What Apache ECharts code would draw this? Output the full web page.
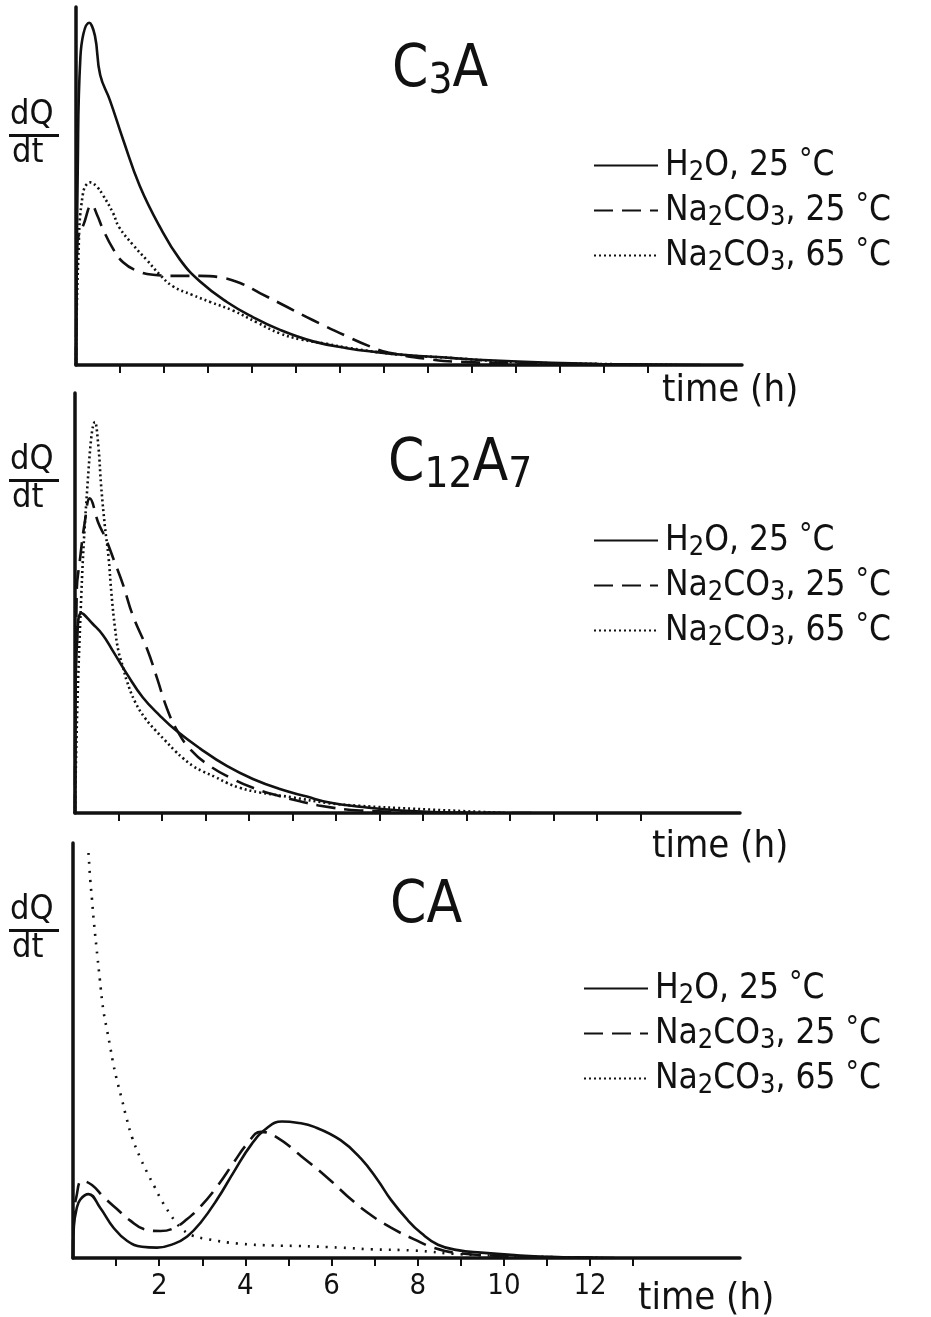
<!DOCTYPE html>
<html>
<head>
<meta charset="utf-8">
<script src="https://cdn.jsdelivr.net/npm/echarts@6/dist/echarts.min.js"></script>
<style>
html,body{margin:0;padding:0;background:#fff;}
#chart{width:931px;height:1317px;}
</style>
</head>
<body>
<div id="chart"></div>
<script>
// ---- data: [time (h), dQ/dt (relative units, 0-100 = axis height)] ----
var seriesNames = ['H2O, 25 °C', 'Na2CO3, 25 °C', 'Na2CO3, 65 °C'];
var panelTitles = ['C3A', 'C12A7', 'CA'];
var tickValues = [1,2,3,4,5,6,7,8,9,10,11,12,13];
var tickLabels = [2,4,6,8,10,12];

var c3aH2O = [[0,0],[0.04,55],[0.1,86],[0.3,95.6],[0.43,92],[0.55,81],[0.77,74],[1.07,63],[1.45,50],[1.91,38.5],[2.36,29.5],[2.82,23.3],[3.43,17.6],[4.02,13.4],[4.64,9.8],[5.39,6.6],[6.16,4.7],[6.84,3.6],[7.5,2.8],[8.5,2.0],[9.25,1.4],[10.8,0.6],[11.9,0.3],[14.2,0]];
var c3aNa25 = [[0,0],[0.03,34],[0.18,39.5],[0.36,44.7],[0.48,41.9],[0.61,38],[0.84,32.5],[1.07,28.7],[1.39,26.3],[1.75,25.2],[2.3,24.9],[2.82,24.9],[3.27,24.5],[3.73,22.9],[4.18,20.1],[4.8,16.2],[5.39,12.5],[6.16,8.0],[6.68,5.2],[7.1,3.5],[8.11,1.5],[8.89,0.8],[10.8,0.3],[13.0,0]];
var c3aNa65 = [[0,0],[0.05,29],[0.16,48],[0.33,51],[0.48,49.7],[0.61,47.5],[0.84,42.5],[0.98,38.5],[1.3,33.5],[1.61,29.3],[1.91,25.2],[2.2,22],[2.64,19.6],[3.05,17.6],[3.57,15.2],[4.11,11.9],[4.64,8.8],[5.09,7.2],[5.7,5.9],[6.23,4.7],[7.36,2.9],[8.5,2.0],[10.0,0.8],[11.9,0.3],[13.7,0]];

var c12H2O = [[0,0],[0.01,26.6],[0.05,41],[0.15,47.6],[0.41,45],[0.64,42.4],[0.87,38.6],[1.2,33],[1.56,27.5],[1.95,23.2],[2.34,19.5],[2.87,15.4],[3.49,11.2],[4.09,8.1],[4.71,5.7],[5.33,3.9],[5.85,2.5],[6.55,1.5],[7.5,0.6],[9.0,0]];
var c12Na25 = [[0,0],[0.04,52.9],[0.11,60],[0.23,69.6],[0.34,74.9],[0.54,69],[0.7,65.5],[0.92,59.5],[1.1,54.5],[1.33,47],[1.66,39],[1.89,32],[2.11,25],[2.34,19.8],[2.64,15.3],[3.1,11.2],[3.63,8.1],[4.09,6.0],[4.64,4.2],[5.17,2.8],[5.6,1.8],[6.55,0.6],[8.5,0.1],[10.5,0]];
var c12Na65 = [[0,0],[0.1,40],[0.3,80],[0.46,93.1],[0.54,87],[0.6,78],[0.69,68],[0.77,61],[0.84,52],[0.92,44],[1.0,38.5],[1.11,34.5],[1.19,31.5],[1.38,26.5],[1.61,22.6],[1.84,19.8],[2.07,17.3],[2.3,14.8],[2.5,12.9],[2.71,11.2],[2.94,9.9],[3.22,8.6],[3.49,7.2],[3.79,6.0],[4.25,4.9],[5.01,3.7],[5.79,2.4],[6.55,1.7],[7.8,1.0],[9.9,0]];

var caH2O = [[0,0],[0.02,7.6],[0.08,11.7],[0.17,14.1],[0.36,15.4],[0.63,12.1],[0.94,7.3],[1.26,4.1],[1.6,2.7],[1.95,2.5],[2.34,3.4],[2.65,5.2],[2.96,8.5],[3.35,14.2],[3.73,20.7],[4.15,27.5],[4.51,31.4],[4.85,32.9],[5.2,32.6],[5.6,31.6],[6.21,28.4],[6.68,24],[7.07,18.8],[7.38,14],[7.77,9.1],[8.08,6],[8.47,3.2],[8.93,1.9],[9.47,1.3],[10.24,0.7],[11.0,0.3],[12.56,0]];
var caNa25 = [[0,0],[0.01,9.5],[0.08,14.8],[0.21,18.6],[0.44,17.6],[0.71,14.7],[1.02,11.8],[1.33,9.0],[1.64,7.0],[2.03,6.5],[2.34,7.2],[2.65,9.4],[2.96,12.4],[3.35,17.3],[3.73,23.0],[4.05,27.6],[4.36,30.4],[4.74,29.0],[5.29,24.6],[5.91,19.3],[6.37,14.9],[6.84,10.9],[7.38,7.3],[7.92,4.5],[8.39,2.4],[9.0,1.1],[10.4,0.4],[12.3,0]];
var caNa65 = [[0.36,97.6],[0.4,91.2],[0.44,86.5],[0.48,81.5],[0.57,72.3],[0.62,67.4],[0.7,60],[0.79,54.9],[0.87,50.5],[0.94,46.5],[1.04,42],[1.14,38],[1.24,33.8],[1.37,29.1],[1.57,23.9],[1.76,19.8],[1.9,17.0],[2.07,13.6],[2.26,10.5],[2.42,8.2],[2.55,6.8],[2.75,5.5],[3.15,4.5],[3.81,3.5],[4.67,3.0],[5.21,2.9],[6.22,2.5],[6.91,2.1],[7.91,1.8],[9.0,0.9],[10.4,0.4],[12.3,0]];

var panelData = [[c3aH2O, c3aNa25, c3aNa65],[c12H2O, c12Na25, c12Na65],[caH2O, caNa25, caNa65]];

// ---- layout ----
var FONT = '"DejaVu Sans Condensed","Liberation Sans Narrow","DejaVu Sans",sans-serif';
var grids = [
  {left: 76, top: 7, width: 666, height: 358},
  {left: 75, top: 393, width: 665, height: 420},
  {left: 73, top: 843, width: 667, height: 415}
];
var xMax = [15.14, 15.29, 15.48];
var legendPos = [{left: 588, top: 140}, {left: 588, top: 515}, {left: 578, top: 963}];
var titlePos = [{x: 392, y: 42}, {x: 388, y: 436}, {x: 390, y: 878}];
var dqPos = [98, 443, 893];
var timePos = [{x: 662, y: 372}, {x: 652, y: 828}, {x: 638, y: 1280}];

var lineTypes = ['solid', [19, 9], [2, 3]];

function richName(name) {
  var m = name.match(/^(.*?),\s*(\d+) °C$/);
  var chem = m[1], temp = m[2];
  var parts = chem.replace(/(\d)/g, '}{s|$1}{t|');
  return '{t|' + parts + '}{t|, ' + temp + ' }{d|°}{t|C}';
}

var rich = {
  t: {fontFamily: FONT, fontSize: 35, color: '#111', lineHeight: 44, verticalAlign: 'middle'},
  s: {fontFamily: FONT, fontSize: 27, color: '#111', lineHeight: 44, padding: [14, 0, 0, 0], verticalAlign: 'middle'},
  d: {fontFamily: FONT, fontSize: 30, color: '#111', lineHeight: 44, padding: [0, 0, 8, 0], verticalAlign: 'middle'}
};

var option = {
  animation: false,
  backgroundColor: '#fff',
  color: ['#111', '#111', '#111'],
  grid: grids,
  xAxis: grids.map(function (g, i) {
    return {
      type: 'value', gridIndex: i, min: 0, max: xMax[i],
      axisLine: {show: true, lineStyle: {color: '#111', width: 3.5}},
      axisTick: {show: true, customValues: tickValues, length: 8, lineStyle: {color: '#111', width: 2}},
      axisLabel: i === 2 ? {show: true, customValues: tickLabels, fontFamily: FONT, fontSize: 29, color: '#111', margin: 14} : {show: false},
      splitLine: {show: false}
    };
  }),
  yAxis: grids.map(function (g, i) {
    return {
      type: 'value', gridIndex: i, min: 0, max: 100,
      axisLine: {show: true, onZero: false, lineStyle: {color: '#111', width: 3.5}},
      axisTick: {show: false}, axisLabel: {show: false}, splitLine: {show: false}
    };
  }),
  legend: legendPos.map(function (p) {
    return {
      left: p.left, top: p.top, orient: 'vertical', itemWidth: 64, itemHeight: 16, itemGap: 4,
      data: seriesNames, selectedMode: false,
      itemStyle: {opacity: 0},
      formatter: richName,
      textStyle: {rich: rich, padding: [0, 0, 0, 2]}
    };
  }),
  series: [],
  graphic: []
};

panelData.forEach(function (arr, pi) {
  arr.forEach(function (data, si) {
    option.series.push({
      type: 'line', name: seriesNames[si], xAxisIndex: pi, yAxisIndex: pi,
      data: data, symbol: 'none', smooth: 0.45, clip: true,
      itemStyle: {color: '#111'},
      lineStyle: {color: '#111', type: (pi === 2 && si === 2) ? [2, 7] : lineTypes[si], width: 2.6}
    });
  });
});

// titles with subscripts
var titleRich = {
  b: {fontFamily: FONT, fontSize: 58, color: '#111'},
  sb: {fontFamily: FONT, fontSize: 42, color: '#111', padding: [22, 0, 0, 0]}
};
var titleText = ['{b|C}{sb|3}{b|A}', '{b|C}{sb|12}{b|A}{sb|7}', '{b|CA}'];
panelTitles.forEach(function (t, i) {
  option.graphic.push({
    type: 'text', left: titlePos[i].x, top: titlePos[i].y,
    style: {text: titleText[i], rich: titleRich, fill: '#111'}
  });
  // dQ/dt
  option.graphic.push({type: 'text', left: 10, top: dqPos[i], style: {text: 'dQ', font: '34px ' + FONT, fill: '#111'}});
  option.graphic.push({type: 'rect', shape: {x: 9, y: dqPos[i] + 36, width: 50, height: 3}, style: {fill: '#111'}});
  option.graphic.push({type: 'text', left: 12, top: dqPos[i] + 38, style: {text: 'dt', font: '34px ' + FONT, fill: '#111'}});
  // time (h)
  option.graphic.push({type: 'text', left: timePos[i].x, top: timePos[i].y, style: {text: 'time (h)', font: '38px ' + FONT, fill: '#111'}});
});

var chart = echarts.init(document.getElementById('chart'), null, {renderer: 'canvas'});
chart.setOption(option);
</script>
</body>
</html>
